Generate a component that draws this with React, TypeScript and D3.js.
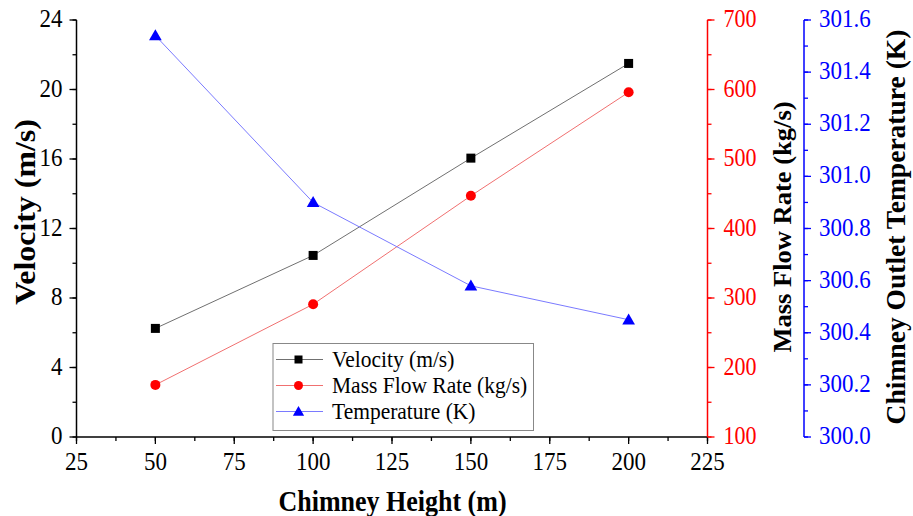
import React from "react";
import * as d3 from "d3";

const heights = [50, 100, 150, 200];
const velocity = [6.25, 10.45, 16.05, 21.5];
const massFlow = [175, 291, 447, 596];
const temperature = [301.54, 300.9, 300.58, 300.45];

const xTicks = [25, 50, 75, 100, 125, 150, 175, 200, 225];
const vTicks = [0, 4, 8, 12, 16, 20, 24];
const mTicks = [100, 200, 300, 400, 500, 600, 700];
const tTicks = [300.0, 300.2, 300.4, 300.6, 300.8, 301.0, 301.2, 301.4, 301.6];

const W = 913, H = 516;
const left = 76.5, right = 707.5, top = 20, bottom = 437;
const blueX = 804;
const FONT = "'Liberation Serif', 'Times New Roman', serif";
const SY = 1.1;

function T(props: {
  x: number; y: number; size: number; fill?: string; anchor?: string; bold?: boolean;
  rot?: boolean; stretch?: number; children: React.ReactNode;
}) {
  const { x, y, size, fill = "#000", anchor = "start", bold, rot, stretch = SY, children } = props;
  const tr = rot
    ? `translate(${x},${y}) rotate(-90) scale(${stretch},1)`
    : `translate(${x},${y}) scale(1,${stretch})`;
  return (
    <text transform={tr} fontSize={size} fill={fill} textAnchor={anchor as any} fontWeight={bold ? "bold" : "normal"}>
      {children}
    </text>
  );
}

export default function App() {
  const x = d3.scaleLinear().domain([25, 225]).range([left, right]);
  const yV = d3.scaleLinear().domain([0, 24]).range([bottom, top]);
  const yM = d3.scaleLinear().domain([100, 700]).range([bottom, top]);
  const yT = d3.scaleLinear().domain([300, 301.6]).range([bottom, top]);

  const lineV = d3.line<number>().x((_, i) => x(heights[i])).y((d) => yV(d));
  const lineM = d3.line<number>().x((_, i) => x(heights[i])).y((d) => yM(d));
  const lineT = d3.line<number>().x((_, i) => x(heights[i])).y((d) => yT(d));

  const tri = d3.symbol(d3.symbolTriangle, 70)() as string;

  const xMinor = d3.range(25, 225.01, 12.5);
  const vMinor = d3.range(0, 24.01, 2);
  const mMinor = d3.range(100, 700.01, 50);
  const tMinor = d3.range(0, 16.01, 1).map((k) => 300 + k * 0.1);

  const black = "#000";
  const red = "#ff0000";
  const blue = "#0000ff";

  return (
    <svg width={W} height={H} style={{ position: "absolute", left: 0, top: 0, background: "#fff" }} fontFamily={FONT}>
      {/* series lines */}
      <path d={lineV(velocity) || ""} fill="none" stroke="#707070" strokeWidth={1} />
      <path d={lineM(massFlow) || ""} fill="none" stroke="#f07070" strokeWidth={1} />
      <path d={lineT(temperature) || ""} fill="none" stroke="#7a7aff" strokeWidth={1} />

      {velocity.map((d, i) => (
        <rect key={"v" + i} x={x(heights[i]) - 4.5} y={yV(d) - 4.5} width={9} height={9} fill={black} />
      ))}
      {massFlow.map((d, i) => (
        <circle key={"m" + i} cx={x(heights[i])} cy={yM(d)} r={5} fill={red} />
      ))}
      {temperature.map((d, i) => (
        <path key={"t" + i} d={tri} transform={`translate(${x(heights[i])},${yT(d) + 1})`} fill={blue} />
      ))}

      {/* x axis */}
      <line x1={left} x2={right} y1={bottom} y2={bottom} stroke={black} strokeWidth={1.5} />
      {xMinor.map((v, i) => (
        <line key={"xm" + i} x1={x(v)} x2={x(v)} y1={bottom} y2={bottom + 4} stroke={black} strokeWidth={1.3} />
      ))}
      {xTicks.map((v) => (
        <g key={"xt" + v}>
          <line x1={x(v)} x2={x(v)} y1={bottom} y2={bottom + 7} stroke={black} strokeWidth={1.3} />
          <T x={x(v)} y={470} size={23} anchor="middle">{v}</T>
        </g>
      ))}
      <T x={392.5} y={511} size={26} anchor="middle" bold stretch={1.12}>Chimney Height (m)</T>

      {/* left axis */}
      <line x1={left} x2={left} y1={top} y2={bottom} stroke={black} strokeWidth={1.5} />
      {vMinor.map((v, i) => (
        <line key={"vm" + i} x1={left - 4} x2={left} y1={yV(v)} y2={yV(v)} stroke={black} strokeWidth={1.3} />
      ))}
      {vTicks.map((v) => (
        <g key={"vt" + v}>
          <line x1={left - 7} x2={left} y1={yV(v)} y2={yV(v)} stroke={black} strokeWidth={1.3} />
          <T x={left - 14} y={yV(v) + 7} size={23} anchor="end">{v}</T>
        </g>
      ))}
      <T x={35} y={212} size={29} anchor="middle" bold rot stretch={1.1}>Velocity (m/s)</T>

      {/* red right axis */}
      <line x1={right} x2={right} y1={top} y2={bottom} stroke={red} strokeWidth={1.5} />
      {mMinor.map((v, i) => (
        <line key={"mm" + i} x1={right} x2={right + 4} y1={yM(v)} y2={yM(v)} stroke={red} strokeWidth={1.3} />
      ))}
      {mTicks.map((v) => (
        <g key={"mt" + v}>
          <line x1={right} x2={right + 7} y1={yM(v)} y2={yM(v)} stroke={red} strokeWidth={1.3} />
          <T x={right + 16} y={yM(v) + 7} size={22} fill={red}>{v}</T>
        </g>
      ))}
      <T x={791} y={227} size={26} anchor="middle" bold rot stretch={1.02}>Mass Flow Rate (kg/s)</T>

      {/* blue right axis */}
      <line x1={blueX} x2={blueX} y1={top} y2={bottom} stroke={blue} strokeWidth={1.5} />
      {tMinor.map((v, i) => (
        <line key={"tm" + i} x1={blueX} x2={blueX + 4} y1={yT(v)} y2={yT(v)} stroke={blue} strokeWidth={1.3} />
      ))}
      {tTicks.map((v) => (
        <g key={"tt" + v}>
          <line x1={blueX} x2={blueX + 7} y1={yT(v)} y2={yT(v)} stroke={blue} strokeWidth={1.3} />
          <T x={blueX + 15} y={yT(v) + 7} size={23} fill={blue}>{v.toFixed(1)}</T>
        </g>
      ))}
      <T x={905} y={227} size={27} anchor="middle" bold rot stretch={1.02}>Chimney Outlet Temperature (K)</T>

      {/* legend */}
      <g>
        <rect x={273} y={343.5} width={260.5} height={87} fill="#fff" stroke="#888" strokeWidth={1} />
        {[
          { label: "Velocity (m/s)", color: "#707070", mk: "sq" },
          { label: "Mass Flow Rate (kg/s)", color: "#f07070", mk: "ci" },
          { label: "Temperature (K)", color: "#7a7aff", mk: "tr" },
        ].map((it, i) => {
          const cy = 359.5 + i * 26;
          return (
            <g key={it.label}>
              <line x1={276} x2={323} y1={cy} y2={cy} stroke={it.color} strokeWidth={1} />
              {it.mk === "sq" && <rect x={294.5} y={cy - 4} width={8} height={8} fill={black} />}
              {it.mk === "ci" && <circle cx={298.5} cy={cy} r={4.5} fill={red} />}
              {it.mk === "tr" && <path d={d3.symbol(d3.symbolTriangle, 55)() as string} transform={`translate(298.5,${cy + 1})`} fill={blue} />}
              <T x={332} y={cy + 7} size={21.5}>{it.label}</T>
            </g>
          );
        })}
      </g>
    </svg>
  );
}
